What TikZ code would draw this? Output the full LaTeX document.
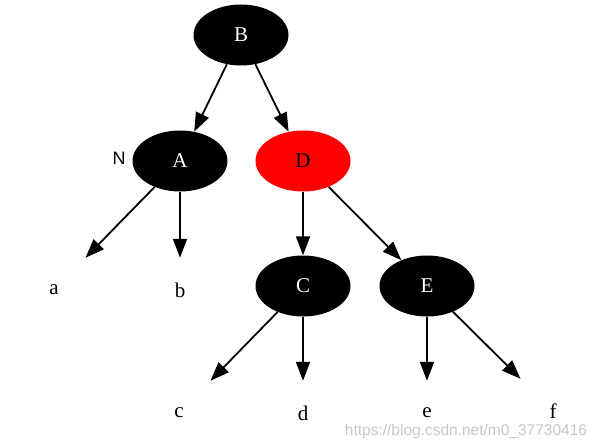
\documentclass[tikz,border=0pt]{standalone}
\usepackage{fontspec}
\setmainfont{Liberation Serif}
\newfontfamily\labelsans{Liberation Sans}
\usetikzlibrary{shapes.geometric,arrows.meta}

\begin{document}
\begin{tikzpicture}[x=1pt,y=-1pt,
  rbnode/.style={ellipse,fill=black,text=white,minimum width=95pt,minimum height=61pt,inner sep=0pt,font=\fontsize{21}{24}\selectfont},
  rednode/.style={rbnode,fill=red,text=black},
  leaf/.style={minimum width=80pt,minimum height=64pt,inner sep=0pt,font=\fontsize{21}{24}\selectfont},
  edge/.style={line width=1.8pt,-{Triangle[length=19pt,width=14pt]}}]
\useasboundingbox (0,0) rectangle (599,446);

\node[rbnode] (B) at (241,35) {B};
\node[rbnode] (A) at (180,161) {A};
\node[rednode] (D) at (303,161) {D};
\node[rbnode] (C) at (303,286) {C};
\node[rbnode] (E) at (427,286) {E};
\node[font=\labelsans\fontsize{18}{20}\selectfont] (nlabel) at (119,158) {N};

\node[leaf] (a) at (54,290) {a};
\node[leaf] (b) at (180,290) {b};
\node[leaf] (c) at (179,413) {c};
\node[leaf] (d) at (303,413) {d};
\node[leaf] (e) at (427,413) {e};
\node[leaf] (f) at (553,411) {f};

\draw[edge] (B) -- (A);
\draw[edge] (B) -- (D);
\draw[edge] (A) -- (a);
\draw[edge] (A) -- (b);
\draw[edge] (D) -- (C);
\draw[edge] (D) -- (E);
\draw[edge] (C) -- (c);
\draw[edge] (C) -- (d);
\draw[edge] (E) -- (e);
\draw[edge] (E) -- (f);

\node[font=\labelsans\fontsize{15.5}{17}\selectfont,text=black!22] (mark) at (466,431) {https://blog.csdn.net/m0\_37730416};
\end{tikzpicture}
\end{document}
